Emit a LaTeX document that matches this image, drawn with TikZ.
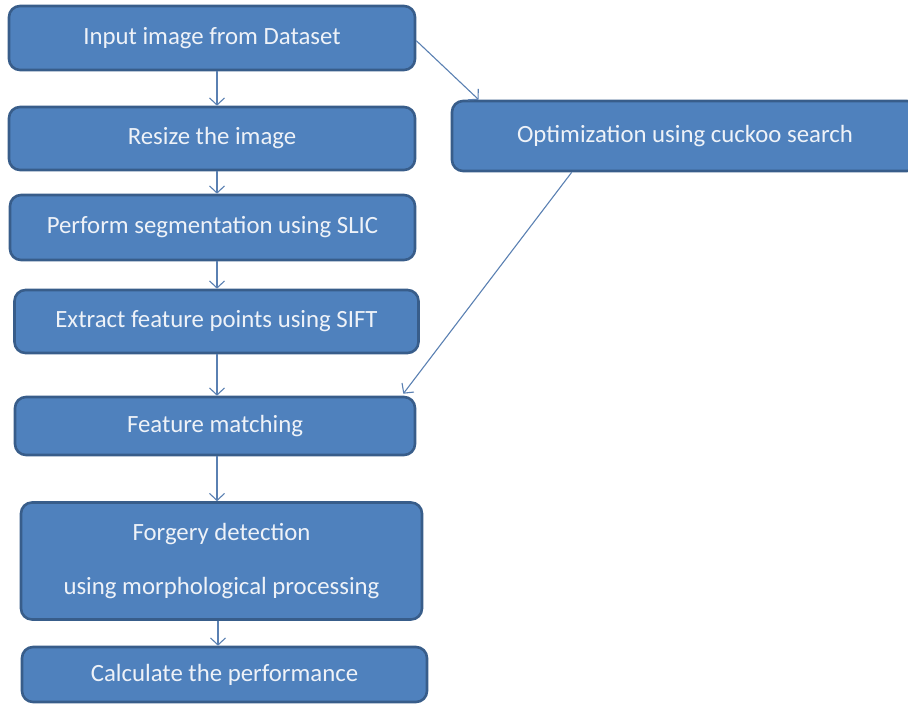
\documentclass[tikz,border=0pt]{standalone}
\usepackage{fontspec}
\setmainfont{Carlito}
\usetikzlibrary{arrows.meta,calc}
\definecolor{boxfill}{HTML}{4F81BD}
\definecolor{boxline}{HTML}{385D8A}
\definecolor{arrcol}{HTML}{5A80B2}
\definecolor{txtcol}{HTML}{EEF2F8}
\begin{document}
\begin{tikzpicture}[x=1pt,y=-1pt,
  box/.style={draw=boxline,fill=boxfill,line width=2.6pt,rounded corners=11pt,
    text=txtcol,font=\fontsize{24.8}{54}\selectfont,align=center,inner sep=0pt},
  arr/.style={draw=arrcol,line width=1.1pt,-{Straight Barb[length=7pt,width=15pt,line width=1.1pt]}}]
\useasboundingbox (0,0) rectangle (908,704);
\node[box,minimum width=406pt,minimum height=64pt] (in) at (212,38) {Input image from Dataset};
\node[box,minimum width=406pt,minimum height=63pt] (rs) at (212,138.5) {Resize the image};
\node[box,minimum width=405pt,minimum height=65pt] (sg) at (212.5,227.5) {Perform segmentation using SLIC};
\node[box,minimum width=404pt,minimum height=63pt] (ex) at (216.5,321.5) {Extract feature points using SIFT};
\node[box,minimum width=400pt,minimum height=58pt] (fm) at (215,426) {Feature matching};
\node[box,minimum width=401pt,minimum height=117pt] (fd) at (221.5,561) {Forgery detection\\using morphological processing};
\node[box,minimum width=405pt,minimum height=55pt] (cp) at (224.5,674.5) {Calculate the performance};
\node[box,minimum width=466pt,minimum height=70pt] (op) at (685,136) {Optimization using cuckoo search};
\coordinate (ax) at (217,0);
\coordinate (bx) at (218,0);
\draw[arr] (in.south -| ax) -- (rs.north -| ax);
\draw[arr] (rs.south -| ax) -- (sg.north -| ax);
\draw[arr] (sg.south -| ax) -- (ex.north -| ax);
\draw[arr] (ex.south -| ax) -- (fm.north -| ax);
\draw[arr] (fm.south -| ax) -- (fd.north -| ax);
\draw[arr] (fd.south -| bx) -- (cp.north -| bx);
\draw[arr] ($(in.north east)+(0,36)$) -- ($(op.north west)+(28,0)$);
\draw[arr] ($(op.south west)+(121,0)$) -- ($(fm.north east)+(-13,-2)$);
\end{tikzpicture}
\end{document}
